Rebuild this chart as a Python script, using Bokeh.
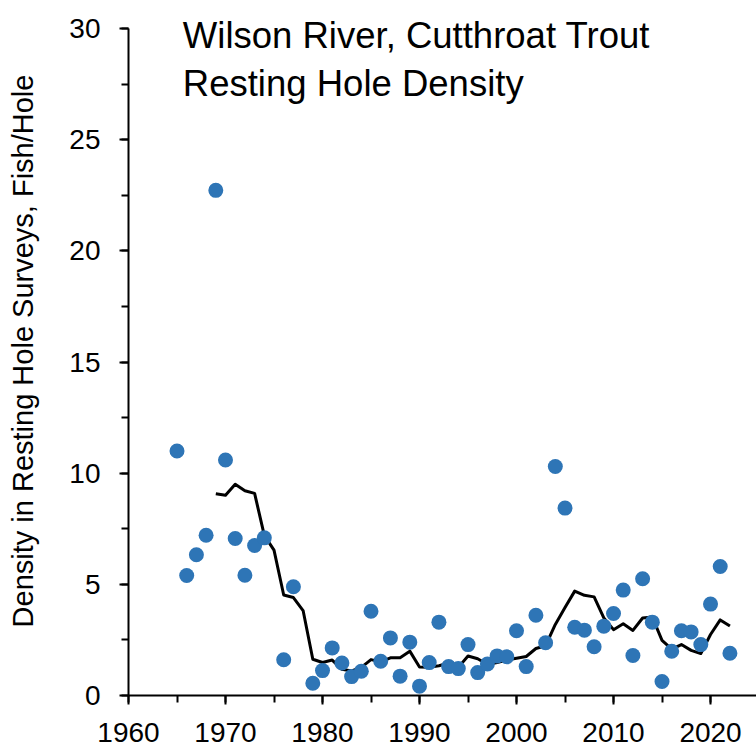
import numpy as np
from bokeh.plotting import figure
from bokeh.models import Label, SingleIntervalTicker, Range1d
from bokeh.embed import file_html
from bokeh.resources import INLINE

# ---- data ----
years = [1965, 1966, 1967, 1968, 1969, 1970, 1971, 1972, 1973, 1974,
         1976, 1977,
         1979, 1980, 1981, 1982, 1983, 1984, 1985, 1986, 1987, 1988,
         1989, 1990, 1991, 1992, 1993, 1994, 1995, 1996, 1997, 1998,
         1999, 2000, 2001, 2002, 2003, 2004, 2005, 2006, 2007, 2008,
         2009, 2010, 2011, 2012, 2013, 2014, 2015, 2016, 2017, 2018,
         2019, 2020, 2021, 2022]
density = [11.00, 5.40, 6.33, 7.21, 22.72, 10.59, 7.06, 5.41, 6.75, 7.09,
           1.61, 4.89,
           0.55, 1.12, 2.14, 1.46, 0.85, 1.09, 3.79, 1.54, 2.59, 0.87,
           2.40, 0.42, 1.48, 3.30, 1.30, 1.21, 2.29, 1.03, 1.42, 1.78,
           1.74, 2.91, 1.30, 3.61, 2.37, 10.30, 8.43, 3.07, 2.94, 2.19,
           3.12, 3.69, 4.74, 1.80, 5.25, 3.30, 0.63, 1.99, 2.91, 2.86,
           2.29, 4.11, 5.80, 1.90]
window = 5  # trailing 5-year geometric mean
title_lines = ["Wilson River, Cutthroat Trout", "Resting Hole Density"]
y_label = "Density in Resting Hole Surveys, Fish/Hole"
y_axis_max = 30

# trailing geometric mean of available surveys in each 5-year window
yrs = np.array(years)
vals = np.array(density)
avg_years = list(range(years[0] + window - 1, years[-1] + 1))
avg_vals = [float(np.exp(np.log(vals[(yrs > y - window) & (yrs <= y)]).mean()))
            for y in avg_years]

FONT = "Liberation Sans"

p = figure(width=756, height=752, output_backend="svg", toolbar_location=None,
           x_range=Range1d(1960, 2024.74), y_range=Range1d(0, 30.99),
           min_border_left=128, min_border_right=0, min_border_top=6,
           min_border_bottom=57)
p.outline_line_color = None
p.grid.visible = False
p.background_fill_color = "white"

p.line(avg_years, avg_vals, line_color="black", line_width=3, line_join="round")
p.scatter(years, density, marker="circle", size=15, fill_color="#2E75B6",
          line_color=None)

p.xaxis.ticker = SingleIntervalTicker(interval=10, num_minor_ticks=2)
p.yaxis.ticker = SingleIntervalTicker(interval=5, num_minor_ticks=2)
p.yaxis.bounds = (0, y_axis_max)
for ax in (p.xaxis, p.yaxis):
    ax.axis_line_color = "black"
    ax.axis_line_width = 2
    ax.major_tick_line_color = "black"
    ax.major_tick_line_width = 2
    ax.minor_tick_line_color = "black"
    ax.minor_tick_line_width = 2
    ax.major_tick_in = 0
    ax.major_tick_out = 9
    ax.minor_tick_in = 0
    ax.minor_tick_out = 7
    ax.major_label_text_font = FONT
    ax.major_label_text_font_size = "28px"
    ax.major_label_text_color = "black"
p.xaxis.major_label_standoff = 18
p.yaxis.major_label_standoff = 19
p.yaxis.axis_label = y_label
p.yaxis.axis_label_text_font = FONT
p.yaxis.axis_label_text_font_size = "29px"
p.yaxis.axis_label_text_font_style = "normal"
p.yaxis.axis_label_text_color = "black"
p.yaxis.axis_label_standoff = 27

for txt, yy in zip(title_lines, [29.69, 27.53]):
    p.add_layout(Label(x=1965.6, y=yy, text=txt, text_font=FONT,
                       text_font_size="36.5px", text_color="black",
                       text_align="left", text_baseline="alphabetic"))

open("out.html", "w").write(file_html(p, INLINE))
